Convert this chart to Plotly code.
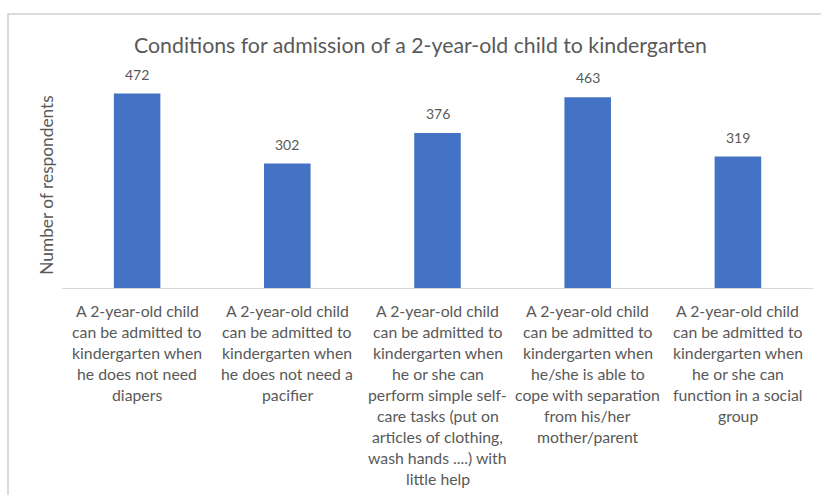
import plotly.graph_objects as go

title = "Conditions for admission of a 2-year-old child to kindergarten"
y_title = "Number of respondents"
categories = ["diapers", "pacifier", "self-care", "separation", "social group"]
category_lines = [
    ["A 2-year-old child", "can be admitted to", "kindergarten when", "he does not need", "diapers"],
    ["A 2-year-old child", "can be admitted to", "kindergarten when", "he does not need a", "pacifier"],
    ["A 2-year-old child", "can be admitted to", "kindergarten when", "he or she can", "perform simple self-",
     "care tasks (put on", "articles of clothing,", "wash hands ....) with", "little help"],
    ["A 2-year-old child", "can be admitted to", "kindergarten when", "he/she is able to",
     "cope with separation", "from his/her", "mother/parent"],
    ["A 2-year-old child", "can be admitted to", "kindergarten when", "he or she can",
     "function in a social", "group"],
]
values = [472, 302, 376, 463, 319]

FONT = "Lato"
GRAY = "#595959"

fig = go.Figure()
fig.add_trace(go.Bar(x=categories, y=values, marker_color="#4472C4",
                     marker_line_width=0, hoverinfo="skip"))

annotations = []
for c, v in zip(categories, values):
    annotations.append(dict(x=c, y=v, xref="x", yref="y", text=str(v), showarrow=False,
                            yanchor="bottom", yshift=9,
                            font=dict(family=FONT, size=14, color=GRAY)))
for c, lines in zip(categories, category_lines):
    for i, line in enumerate(lines):
        annotations.append(dict(x=c, y=0, xref="x", yref="paper", text=line, showarrow=False,
                                yanchor="middle", yshift=-22 - 21 * i,
                                font=dict(family=FONT, size=15.8, color=GRAY)))
annotations.append(dict(x=420, y=45, xref="paper", yref="paper", text=title, showarrow=False,
                        font=dict(family=FONT, size=21.3, color=GRAY)))

fig.update_layout(
    width=821, height=495,
    margin=dict(l=62, r=8, t=82, b=207),
    paper_bgcolor="white", plot_bgcolor="white",
    bargap=0.69,
    showlegend=False,
    font=dict(family=FONT, color=GRAY),
    xaxis=dict(showticklabels=False, showgrid=False, zeroline=False, showline=True,
               linecolor="#D9D9D9", linewidth=1.3, ticks=""),
    yaxis=dict(range=[0, 500], showticklabels=False, showgrid=False, zeroline=False,
               showline=False, title=dict(text=y_title, font=dict(family=FONT, size=17.3, color=GRAY),
                                          standoff=2)),
    annotations=annotations,
)

# convert title annotation to pixel-based paper coordinates
pw = 821 - 62 - 8
ph = 495 - 82 - 207
ann = list(fig.layout.annotations)
t = ann[-1]
t.x = (420 - 62) / pw
t.y = (495 - 207 - 45) / ph
t.xanchor = "center"
t.yanchor = "middle"
fig.layout.annotations = ann

# frame around chart
fig.add_shape(type="rect", xref="paper", yref="paper",
              x0=(8 - 62) / pw, x1=(830 - 62) / pw,
              y0=(495 - 207 - 510) / ph, y1=(495 - 207 - 14) / ph,
              line=dict(color="#D0D0D0", width=1.5), fillcolor="rgba(0,0,0,0)", layer="below")

fig.write_html("out.html")
